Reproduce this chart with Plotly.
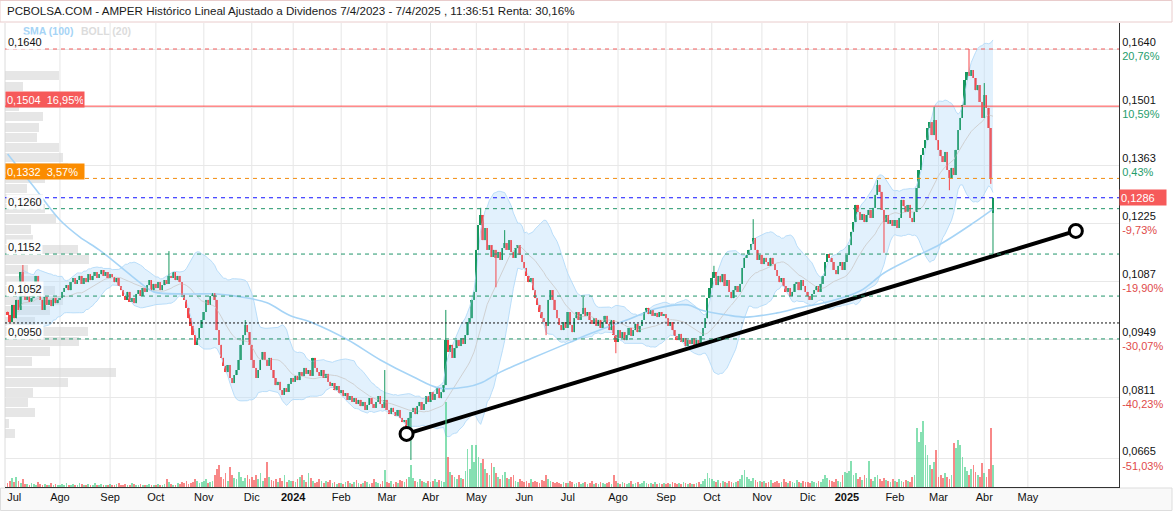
import numpy as np
import pandas as pd
import plotly.graph_objects as go

# ------------------------------------------------------------------ DATA
# daily closes, grouped by month (first candle: 2023-06-28)
close_jul23 = [0.1007, 0.0990, 0.1031, 0.0999, 0.1043, 0.1019, 0.1109, 0.1085, 0.1043, 0.1052, 0.1038, 0.1047,
               0.1055, 0.1100, 0.1081, 0.1043, 0.1019, 0.1050, 0.1031, 0.1043, 0.1028, 0.1047, 0.1035, 0.1043]
close_aug23 = [0.1047, 0.1062, 0.1071, 0.1078, 0.1066, 0.1085, 0.1095, 0.1081, 0.1090, 0.1100, 0.1081, 0.1095,
               0.1085, 0.1104, 0.1090, 0.1100, 0.1109, 0.1095, 0.1104, 0.1114, 0.1100, 0.1109, 0.1095]
close_sep23 = [0.1104, 0.1097, 0.1085, 0.1095, 0.1076, 0.1066, 0.1052, 0.1043, 0.1062, 0.1038, 0.1047, 0.1035,
               0.1057, 0.1066, 0.1052, 0.1071, 0.1062, 0.1078, 0.1090, 0.1066, 0.1081]
close_oct23 = [0.1071, 0.1085, 0.1066, 0.1078, 0.1090, 0.1081, 0.1100, 0.1095, 0.1109, 0.1090, 0.1100, 0.1085,
               0.1055, 0.1043, 0.1024, 0.0999, 0.0981, 0.0959, 0.0936, 0.0952, 0.0976, 0.0995]
close_nov23 = [0.1014, 0.1043, 0.1031, 0.1052, 0.1059, 0.1043, 0.0971, 0.0936, 0.0905, 0.0886, 0.0871, 0.0888,
               0.0857, 0.0845, 0.0864, 0.0876, 0.0900, 0.0936, 0.0959, 0.0983, 0.0966, 0.0936]
close_dec23 = [0.0900, 0.0881, 0.0857, 0.0876, 0.0900, 0.0919, 0.0900, 0.0886, 0.0905, 0.0876, 0.0857, 0.0840,
               0.0848, 0.0828, 0.0817, 0.0833, 0.0824, 0.0843, 0.0857]
close_jan24 = [0.0848, 0.0862, 0.0852, 0.0871, 0.0862, 0.0881, 0.0867, 0.0876, 0.0862, 0.0905, 0.0881, 0.0871,
               0.0862, 0.0876, 0.0857, 0.0867, 0.0848, 0.0838, 0.0845, 0.0828, 0.0838, 0.0821]
close_feb24 = [0.0828, 0.0814, 0.0821, 0.0805, 0.0814, 0.0800, 0.0809, 0.0795, 0.0805, 0.0790, 0.0800, 0.0781,
               0.0793, 0.0809, 0.0795, 0.0786, 0.0800, 0.0814, 0.0795, 0.0786, 0.0805]
close_mar24 = [0.0781, 0.0771, 0.0786, 0.0776, 0.0767, 0.0781, 0.0762, 0.0752, 0.0757, 0.0740, 0.0762, 0.0776,
               0.0786, 0.0771, 0.0790, 0.0800, 0.0781, 0.0795, 0.0814, 0.0800]
close_apr24 = [0.0823, 0.0805, 0.0819, 0.0833, 0.0809, 0.0823, 0.0840, 0.0947, 0.0919, 0.0936, 0.0905, 0.0928,
               0.0947, 0.0933, 0.0952, 0.0938, 0.0959, 0.0990, 0.0999, 0.1043, 0.1062]
close_may24 = [0.1162, 0.1221, 0.1245, 0.1185, 0.1214, 0.1162, 0.1173, 0.1145, 0.1162, 0.1143, 0.1157, 0.1138,
               0.1166, 0.1178, 0.1162, 0.1185, 0.1157, 0.1143, 0.1166, 0.1173, 0.1150, 0.1133]
close_jun24 = [0.1119, 0.1100, 0.1085, 0.1095, 0.1066, 0.1047, 0.1031, 0.1014, 0.0999, 0.0990, 0.0981, 0.1043,
               0.1066, 0.1043, 0.1019, 0.0999, 0.0983, 0.0971, 0.0990, 0.0976]
close_jul24 = [0.1014, 0.0983, 0.0966, 0.0999, 0.1014, 0.0995, 0.1009, 0.1024, 0.1005, 0.1014, 0.0995, 0.0986,
               0.0999, 0.0981, 0.0995, 0.0976, 0.0990, 0.1005, 0.0986, 0.0971, 0.0995, 0.0959, 0.0943]
close_aug24 = [0.0971, 0.0952, 0.0966, 0.0947, 0.0959, 0.0976, 0.0957, 0.0971, 0.0986, 0.0966, 0.0981, 0.0995,
               0.1014, 0.1024, 0.1009, 0.1019, 0.1005, 0.1012, 0.1002, 0.1014, 0.1005, 0.1009]
close_sep24 = [0.0999, 0.0981, 0.0990, 0.0971, 0.0957, 0.0947, 0.0962, 0.0943, 0.0952, 0.0933, 0.0947, 0.0938,
               0.0952, 0.0936, 0.0947, 0.0938, 0.0957, 0.0976, 0.0999, 0.1047, 0.1071]
close_oct24 = [0.1095, 0.1109, 0.1078, 0.1100, 0.1085, 0.1104, 0.1076, 0.1090, 0.1062, 0.1047, 0.1066, 0.1076,
               0.1062, 0.1081, 0.1119, 0.1143, 0.1150, 0.1162, 0.1176, 0.1190, 0.1162, 0.1138, 0.1150]
close_nov24 = [0.1128, 0.1143, 0.1133, 0.1124, 0.1143, 0.1128, 0.1114, 0.1100, 0.1085, 0.1095, 0.1076, 0.1062,
               0.1071, 0.1052, 0.1062, 0.1081, 0.1085, 0.1066, 0.1090, 0.1076, 0.1062]
close_dec24 = [0.1052, 0.1043, 0.1057, 0.1066, 0.1076, 0.1062, 0.1081, 0.1100, 0.1133, 0.1152, 0.1143, 0.1133,
               0.1114, 0.1104, 0.1124, 0.1133, 0.1114, 0.1133]
close_jan25 = [0.1150, 0.1173, 0.1205, 0.1228, 0.1269, 0.1252, 0.1233, 0.1247, 0.1228, 0.1245, 0.1257, 0.1238,
               0.1262, 0.1293, 0.1317, 0.1300, 0.1257, 0.1228, 0.1245, 0.1224, 0.1233, 0.1219]
close_feb25 = [0.1233, 0.1214, 0.1238, 0.1281, 0.1266, 0.1252, 0.1269, 0.1238, 0.1228, 0.1252, 0.1309, 0.1352,
               0.1388, 0.1404, 0.1423, 0.1452, 0.1466, 0.1435, 0.1471, 0.1423]
close_mar25 = [0.1400, 0.1385, 0.1371, 0.1395, 0.1352, 0.1333, 0.1357, 0.1340, 0.1400, 0.1447, 0.1476, 0.1507,
               0.1566, 0.1585, 0.1576, 0.1590, 0.1571, 0.1542, 0.1554, 0.1514, 0.1476]
close_apr25 = [0.1530, 0.1500, 0.1452, 0.1332, 0.1286]

# daily volume (millions of shares)
vol_jul23 = [4, 6, 9, 5, 10, 6, 4, 8, 3, 3, 2, 4, 3, 2, 5, 3, 2, 3, 2, 2, 4, 2, 3, 2]
vol_aug23 = [2, 3, 2, 4, 2, 2, 3, 2, 2, 4, 3, 2, 2, 3, 2, 2, 4, 2, 2, 3, 2, 2, 2]
vol_sep23 = [3, 2, 2, 3, 4, 2, 2, 3, 2, 2, 4, 3, 2, 2, 3, 2, 2, 2, 3, 2, 2]
vol_oct23 = [2, 3, 2, 2, 3, 8, 5, 3, 2, 2, 4, 3, 5, 4, 6, 3, 4, 5, 8, 6, 4, 5]
vol_nov23 = [6, 8, 4, 5, 6, 12, 18, 22, 10, 8, 14, 6, 20, 12, 9, 8, 15, 10, 6, 9, 12, 8]
vol_dec23 = [10, 7, 12, 8, 14, 6, 9, 25, 10, 7, 6, 8, 5, 9, 6, 12, 5, 7, 6]
vol_jan24 = [6, 5, 8, 10, 12, 7, 5, 14, 9, 6, 4, 5, 8, 6, 4, 6, 5, 7, 4, 5, 3, 4]
vol_feb24 = [4, 3, 5, 6, 4, 3, 5, 7, 4, 3, 4, 6, 5, 3, 4, 8, 5, 4, 3, 6, 17]
vol_mar24 = [5, 4, 6, 3, 5, 4, 7, 6, 5, 8, 10, 22, 9, 6, 5, 8, 6, 5, 4, 6]
vol_apr24 = [5, 6, 8, 5, 7, 6, 5, 85, 30, 15, 12, 10, 8, 12, 9, 8, 16, 38, 18, 42, 25]
vol_may24 = [42, 30, 24, 28, 18, 14, 12, 24, 20, 14, 10, 8, 12, 15, 9, 8, 10, 12, 6, 5, 8, 6]
vol_jun24 = [5, 6, 4, 8, 5, 6, 5, 4, 7, 6, 12, 8, 6, 5, 4, 5, 4, 3, 5, 4]
vol_jul24 = [4, 6, 5, 3, 4, 5, 3, 4, 5, 3, 4, 6, 3, 4, 3, 5, 4, 3, 4, 5, 3, 12, 6]
vol_aug24 = [4, 3, 5, 4, 3, 4, 6, 3, 4, 5, 3, 4, 6, 4, 3, 4, 3, 5, 3, 4, 3, 4]
vol_sep24 = [3, 4, 3, 5, 4, 3, 4, 3, 5, 4, 3, 4, 3, 3, 4, 5, 3, 6, 8, 14, 9]
vol_oct24 = [8, 6, 5, 7, 4, 6, 5, 4, 6, 5, 4, 5, 6, 8, 12, 17, 10, 8, 6, 9, 7, 5, 6]
vol_nov24 = [5, 6, 4, 5, 7, 4, 5, 6, 4, 5, 8, 5, 4, 6, 5, 4, 7, 5, 4, 6, 5]
vol_dec24 = [5, 4, 6, 5, 4, 6, 5, 8, 12, 9, 7, 6, 5, 8, 6, 5, 12, 15]
vol_jan25 = [14, 16, 26, 12, 14, 8, 10, 7, 12, 9, 26, 8, 6, 10, 12, 8, 6, 9, 7, 6, 5, 8]
vol_feb25 = [6, 5, 8, 6, 5, 7, 6, 5, 10, 12, 59, 45, 55, 66, 42, 32, 22, 18, 25, 37]
vol_mar25 = [10, 12, 9, 14, 10, 8, 12, 44, 39, 47, 42, 30, 20, 16, 12, 18, 22, 15, 12, 10, 24]
vol_apr25 = [14, 10, 18, 59, 22]

open_override = {"2023-06-28": 0.1015, "2025-04-07": 0.1250}
high_extra = {"2023-07-07": 0.1126, "2023-10-10": 0.1159, "2023-11-28": 0.0995, "2024-02-29": 0.0876,
              "2024-04-11": 0.1019, "2024-05-06": 0.1262, "2024-05-21": 0.1209, "2024-07-10": 0.1050,
              "2024-10-02": 0.1124, "2024-10-28": 0.1235, "2025-01-22": 0.1328, "2025-02-27": 0.1502,
              "2025-03-21": 0.1640, "2025-04-01": 0.1559}
low_extra = {"2024-03-14": 0.0724, "2024-03-18": 0.0662, "2024-05-15": 0.1073, "2024-06-17": 0.0959,
             "2024-07-31": 0.0916, "2025-01-27": 0.1155, "2025-03-10": 0.1304, "2025-04-04": 0.1319,
             "2025-04-07": 0.1152}

# SMA(100)
sma_dates = ["2023-06-28", "2023-07-14", "2023-08-01", "2023-08-14", "2023-08-25", "2023-09-08", "2023-09-21",
             "2023-09-29", "2023-10-20", "2023-11-09", "2023-11-24", "2023-12-12", "2023-12-28", "2024-01-15",
             "2024-02-06", "2024-02-27", "2024-03-19", "2024-04-08", "2024-04-25", "2024-05-06", "2024-05-17",
             "2024-06-07", "2024-07-01", "2024-07-16", "2024-08-07", "2024-08-28", "2024-09-16", "2024-09-24",
             "2024-10-10", "2024-10-23", "2024-11-12", "2024-11-26", "2024-12-13", "2025-01-10", "2025-01-27",
             "2025-02-12", "2025-03-04", "2025-03-25", "2025-04-07"]
sma_values = [0.1390, 0.1312, 0.1233, 0.1193, 0.1162, 0.1121, 0.1083, 0.1062, 0.1057, 0.1057, 0.1050, 0.1036,
              0.1007, 0.0988, 0.0948, 0.0900, 0.0860, 0.0833, 0.0836, 0.0845, 0.0871, 0.0905, 0.0940, 0.0964,
              0.0995, 0.1024, 0.1031, 0.1019, 0.1007, 0.1002, 0.1012, 0.1024, 0.1038, 0.1064, 0.1107, 0.1140,
              0.1176, 0.1226, 0.1259]

# volume-at-price profile (bins from the top price downwards)
profile_top = 0.1588
profile_bin = 0.00243
profile_volume = [54, 18, 40, 14, 38, 34, 32, 54, 58, 63, 40, 22, 38, 40, 51, 26, 28, 73, 84, 23, 35, 50,
                  58, 45, 30, 83, 74, 45, 27, 111, 63, 28, 23, 30, 4, 10]

# trend line
trend_dates = ["2024-03-14", "2025-06-03"]
trend_prices = [0.0724, 0.1207]

# levels
max_level = 0.1640
resist_level = 0.1504
resist_pct = "16,95%"
prev_close = 0.1332
prev_pct = "3,57%"
last_price = 0.1286
start_price = 0.0988
green_levels = [0.1260, 0.1152, 0.1052, 0.0950]

right_ticks = [0.1640, 0.1501, 0.1363, 0.1225, 0.1087, 0.0949, 0.0811, 0.0665]
right_pct = ["20,76%", "10,59%", "0,43%", "-9,73%", "-19,90%", "-30,07%", "-40,23%", "-51,03%"]

month_names = ["Ene", "Feb", "Mar", "Abr", "May", "Jun", "Jul", "Ago", "Sep", "Oct", "Nov", "Dic"]
holidays = ["2023-12-25", "2023-12-26", "2024-01-01", "2024-03-29", "2024-04-01", "2024-05-01",
            "2024-12-24", "2024-12-25", "2024-12-26", "2024-12-31", "2025-01-01", "2025-04-18",
            "2025-04-21", "2025-05-01"]

title_text = ("PCBOLSA.COM - AMPER Histórico Lineal Ajustado a Dividenos 7/4/2023 - 7/4/2025 , "
              "11:36:51 Renta: 30,16%")

# ------------------------------------------------------------------ BUILD
closes = sum([close_jul23, close_aug23, close_sep23, close_oct23, close_nov23, close_dec23, close_jan24,
              close_feb24, close_mar24, close_apr24, close_may24, close_jun24, close_jul24, close_aug24,
              close_sep24, close_oct24, close_nov24, close_dec24, close_jan25, close_feb25, close_mar25,
              close_apr25], [])
volumes = sum([vol_jul23, vol_aug23, vol_sep23, vol_oct23, vol_nov23, vol_dec23, vol_jan24, vol_feb24,
               vol_mar24, vol_apr24, vol_may24, vol_jun24, vol_jul24, vol_aug24, vol_sep24, vol_oct24,
               vol_nov24, vol_dec24, vol_jan25, vol_feb25, vol_mar25, vol_apr25], [])

cal = pd.bdate_range("2023-06-28", "2025-06-30", freq="C", holidays=holidays)
day_index = {d.strftime("%Y-%m-%d"): i for i, d in enumerate(cal)}
n = len(closes)
xi = np.arange(n)
dates = [d.strftime("%Y-%m-%d") for d in cal[:n]]

opens = [closes[0]] + closes[:-1]
opens = [open_override.get(d, o) for d, o in zip(dates, opens)]
highs = [max(o, c, high_extra.get(d, 0)) for d, o, c in zip(dates, opens, closes)]
lows = [min(o, c, low_extra.get(d, 1)) for d, o, c in zip(dates, opens, closes)]
up = [c >= o for o, c in zip(opens, closes)]

s = pd.Series(closes)
mid = s.rolling(20, min_periods=5).mean()
sd = s.rolling(20, min_periods=5).std(ddof=0)
upper = mid + 2 * sd
lower = mid - 2 * sd
ok = mid.notna().values

GREEN = "#17985f"
RED = "#f5474a"
FONT = "Liberation Sans, Arial, sans-serif"

L, R, T, B = 5, 54, 23, 25
PW, PH = 1173 - L - R, 512 - T - B


def px(xp):
    return (xp - L) / PW


def py(yp):
    return (512 - B - yp) / PH


fig = go.Figure()

# volume-at-price profile (bottom layer, own x axis in pixel-like units)
centers = [profile_top - (k + 0.5) * profile_bin for k in range(len(profile_volume))]
fig.add_trace(go.Bar(x=profile_volume, y=centers, orientation="h", width=profile_bin * 0.88,
                     marker=dict(color="rgba(214,214,214,0.62)", line=dict(width=0)),
                     xaxis="x", yaxis="y", hoverinfo="skip"))

# Bollinger bands
fig.add_trace(go.Scatter(x=xi[ok], y=upper[ok], mode="lines", line=dict(color="rgba(180,218,248,0.9)", width=1),
                         xaxis="x2", yaxis="y", hoverinfo="skip"))
fig.add_trace(go.Scatter(x=xi[ok], y=lower[ok], mode="lines", line=dict(color="rgba(180,218,248,0.9)", width=1),
                         fill="tonexty", fillcolor="rgba(190,224,250,0.45)", xaxis="x2", yaxis="y",
                         hoverinfo="skip"))
fig.add_trace(go.Scatter(x=xi[ok], y=mid[ok], mode="lines", line=dict(color="rgba(205,205,205,0.9)", width=1),
                         xaxis="x2", yaxis="y", hoverinfo="skip"))

# SMA(100)
fig.add_trace(go.Scatter(x=[day_index[d] for d in sma_dates], y=sma_values, mode="lines",
                         line=dict(color="#a6d4f6", width=1.6, shape="spline"), xaxis="x2", yaxis="y",
                         hoverinfo="skip"))

# candles: wicks + bodies
for flag, col in ((True, GREEN), (False, RED)):
    wx, wy = [], []
    for i in range(n):
        if up[i] == flag:
            wx += [i, i, None]
            wy += [lows[i], highs[i], None]
    fig.add_trace(go.Scatter(x=wx, y=wy, mode="lines", line=dict(color=col, width=1), xaxis="x2", yaxis="y",
                             hoverinfo="skip"))
body_base = [min(o, c) for o, c in zip(opens, closes)]
body_h = [max(abs(c - o), 0.00022) for o, c in zip(opens, closes)]
fig.add_trace(go.Bar(x=xi, y=body_h, base=body_base, width=0.9,
                     marker=dict(color=[GREEN if u else RED for u in up], line=dict(width=0)),
                     xaxis="x2", yaxis="y", hoverinfo="skip"))

# trend line
fig.add_trace(go.Scatter(x=[day_index[d] for d in trend_dates], y=trend_prices, mode="lines+markers",
                         line=dict(color="black", width=4),
                         marker=dict(symbol="circle", size=13, color="white", line=dict(color="black", width=3)),
                         xaxis="x2", yaxis="y", hoverinfo="skip"))

# volume
vcol = ["rgba(60,205,130,0.62)" if u else "rgba(245,80,80,0.68)" for u in up]
fig.add_trace(go.Bar(x=xi, y=volumes, marker=dict(color=vcol, line=dict(width=0)), width=0.8,
                     xaxis="x2", yaxis="y2", hoverinfo="skip"))

# month ticks
tick_vals, tick_text = [], []
seen = set()
for i, d in enumerate(cal):
    key = (d.year, d.month)
    if key in seen:
        continue
    seen.add(key)
    if d < pd.Timestamp("2023-07-01") or d > pd.Timestamp("2025-05-31"):
        continue
    tick_vals.append(i)
    tick_text.append(f"<b>{d.year}</b>" if d.month == 1 else month_names[d.month - 1])

shapes = []
for v in tick_vals[1:]:
    shapes.append(dict(type="line", xref="x2", yref="paper", x0=v, x1=v, y0=0, y1=1,
                       line=dict(color="#e6e6e6", width=1), layer="below"))
# left border
shapes.append(dict(type="line", xref="paper", yref="paper", x0=0, x1=0, y0=0, y1=1,
                   line=dict(color="#dcdcdc", width=1), layer="below"))


def hline(y, color, dash, width=1):
    shapes.append(dict(type="line", xref="paper", yref="y", x0=0, x1=1, y0=y, y1=y,
                       line=dict(color=color, width=width, dash=dash), layer="above"))


hline(max_level, "#f25c5c", "4px,4px")
hline(resist_level, "#ff4a4a", "solid")
hline(prev_close, "#f28c0f", "4px,4px")
hline(last_price, "#1010ff", "4px,4px")
for g in green_levels:
    hline(g, "#21966a", "4px,4px")
hline(start_price, "#111111", "2px,2px")

# title box and bottom strip
shapes.append(dict(type="rect", xref="paper", yref="paper", x0=px(0), x1=px(1172), y0=py(22), y1=py(0.5),
                   line=dict(color="#e9cccc", width=1), fillcolor="white", layer="below"))
shapes.append(dict(type="rect", xref="paper", yref="paper", x0=px(0.5), x1=px(1172), y0=py(510.5), y1=py(488),
                   line=dict(color="#dddddd", width=1), fillcolor="#f9f9f9", layer="below"))

fmt = lambda v: f"{v:.4f}".replace(".", ",")

annotations = [
    dict(text=title_text, xref="paper", yref="paper", x=px(5), y=py(11), xanchor="left", yanchor="middle",
         showarrow=False, font=dict(size=11.6, color="#1a1a1a", family=FONT)),
    dict(text="<b>SMA (100)</b>", xref="paper", yref="paper", x=px(21), y=py(31), xanchor="left",
         yanchor="middle", showarrow=False, font=dict(size=10.5, color="#a6d4f6", family=FONT)),
    dict(text="<b>BOLL (20)</b>", xref="paper", yref="paper", x=px(79), y=py(31), xanchor="left",
         yanchor="middle", showarrow=False, font=dict(size=10.5, color="#dcdcdc", family=FONT)),
    dict(text=fmt(resist_level) + "\u00a0\u00a0" + resist_pct, xref="paper", yref="y", x=0, y=resist_level,
         yshift=7, xanchor="left", yanchor="middle", showarrow=False, bgcolor="#f65a5a", width=76, height=13,
         align="left", font=dict(size=11, color="white", family=FONT)),
    dict(text=fmt(prev_close) + "\u00a0\u00a0" + prev_pct, xref="paper", yref="y", x=0, y=prev_close,
         yshift=7, xanchor="left", yanchor="middle", showarrow=False, bgcolor="#fb8c00", width=76, height=13,
         align="left", font=dict(size=11, color="white", family=FONT)),
    dict(text=fmt(last_price), xref="paper", yref="y", x=1, y=last_price, xanchor="left", yanchor="middle",
         showarrow=False, bgcolor="#f65a5a", width=44, height=13, align="left",
         font=dict(size=11, color="white", family=FONT)),
]
for v in [max_level] + green_levels:
    annotations.append(dict(text=fmt(v), xref="paper", yref="y", x=0.001, y=v, yshift=7, xanchor="left",
                            yanchor="middle", showarrow=False, bgcolor="rgba(255,255,255,0.92)", borderpad=1,
                            font=dict(size=11, color="#111111", family=FONT)))

rt_text = []
for v, p in zip(right_ticks, right_pct):
    col = "#e04a4a" if p.startswith("-") else "#1f9d6c"
    rt_text.append(f"{fmt(v)}<br><span style='color:{col}'>{p}</span>")

fig.update_layout(
    width=1173, height=512, margin=dict(l=L, r=R, t=T, b=B),
    paper_bgcolor="white", plot_bgcolor="white", showlegend=False,
    font=dict(family=FONT, size=11, color="#111111"),
    xaxis=dict(domain=[0, 1], range=[0, PW], visible=False, fixedrange=True),
    xaxis2=dict(overlaying="x", anchor="y", side="bottom", range=[-1.2, 509.8], tickmode="array",
                tickvals=tick_vals, ticktext=tick_text, showgrid=False, zeroline=False, showline=True,
                linecolor="#333333", linewidth=1, ticks="", tickfont=dict(size=11, color="#111111")),
    yaxis=dict(side="right", range=[0.05976, 0.17019], tickmode="array", tickvals=right_ticks,
               ticktext=rt_text, showgrid=True, gridcolor="#e8e8e8", zeroline=False, showline=True,
               linecolor="#333333", linewidth=1, ticks="", tickfont=dict(size=11, color="#111111")),
    yaxis2=dict(overlaying="y", range=[0, PH], visible=False),
    shapes=shapes, annotations=annotations, bargap=0, barmode="overlay",
)

fig.write_html("out.html")
